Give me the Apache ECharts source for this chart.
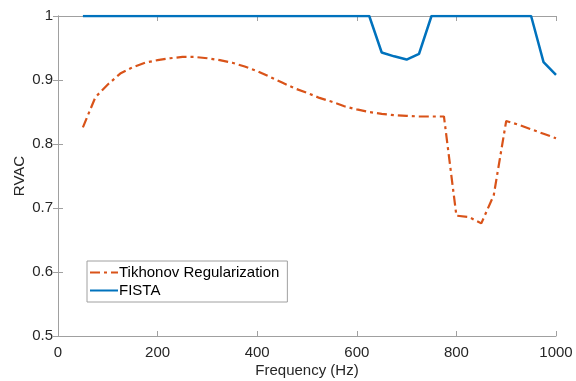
<!DOCTYPE html>
<html><head><meta charset="utf-8">
<script src="https://cdn.jsdelivr.net/npm/echarts@6/dist/echarts.min.js"></script>
<style>html,body{margin:0;padding:0;background:#fff}#c{width:576px;height:381px}</style>
</head><body><div id="c"></div>
<script>
var freqs = [50,75,100,125,150,175,200,225,250,275,300,325,350,375,400,425,450,475,500,525,550,575,600,625,650,675,700,725,750,775,800,825,850,875,900,925,950,975,1000];
var tikhonov = [0.826,0.873,0.893,0.910,0.920,0.927,0.931,0.934,0.936,0.936,0.934,0.931,0.927,0.921,0.914,0.905,0.896,0.887,0.880,0.872,0.866,0.859,0.854,0.850,0.847,0.845,0.844,0.843,0.843,0.843,0.688,0.686,0.676,0.720,0.836,0.830,0.823,0.816,0.809];
var fista = [1,1,1,1,1,1,1,1,1,1,1,1,1,1,1,1,1,1,1,1,1,1,1,1,0.943,0.937,0.932,0.941,1,1,1,1,1,1,1,1,1,0.928,0.908];
var xTicks = [0,200,400,600,800,1000];
var yTicks = [0.5,0.6,0.7,0.8,0.9,1];

function pairs(xs, ys){ return xs.map(function(x,i){return [x, ys[i]];}); }
var font = 'Liberation Sans, Arial, Helvetica, sans-serif';
var axisCol = '#A0A0A0';
var chart = echarts.init(document.getElementById('c'), null, {renderer:'canvas'});
var baseX = {type:'value', min:0, max:1000, interval:200,
  axisLine:{show:true, lineStyle:{color:axisCol, width:1}},
  axisTick:{show:true, inside:true, length:5, lineStyle:{color:axisCol}},
  splitLine:{show:false}};
var baseY = {type:'value', min:0.5, max:1, interval:0.1,
  axisLine:{show:true, lineStyle:{color:axisCol, width:1}},
  axisTick:{show:true, inside:true, length:5, lineStyle:{color:axisCol}},
  splitLine:{show:false}};
chart.setOption({
  animation:false,
  backgroundColor:'#fff',
  grid:{left:58, top:16, right:20, bottom:45, containLabel:false, outerBoundsMode:'none'},
  xAxis:[
    Object.assign({}, baseX, {position:'bottom', name:'Frequency (Hz)', nameLocation:'middle', nameGap:27,
      nameMoveOverlap:false,
      nameTextStyle:{color:'#262626', fontSize:15, fontFamily:font},
      axisLabel:{color:'#262626', fontSize:15, fontFamily:font, margin:9,
        formatter:function(v){return String(v);}}}),
    Object.assign({}, baseX, {position:'top', axisLabel:{show:false}})
  ],
  yAxis:[
    Object.assign({}, baseY, {position:'left', name:'RVAC', nameLocation:'middle', nameGap:31, nameRotate:90,
      nameMoveOverlap:false,
      nameTextStyle:{color:'#262626', fontSize:15, fontFamily:font},
      axisLabel:{color:'#262626', fontSize:15, fontFamily:font, margin:5,
        formatter:function(v){return String(Math.round(v*10)/10);}}}),
    Object.assign({}, baseY, {position:'right', axisLabel:{show:false}})
  ],
  legend:{
    orient:'vertical', left:87, top:261,
    borderColor:'#A0A0A0', borderWidth:1, borderRadius:0,
    padding:[4,8,4,2], itemGap:3, itemWidth:28, itemHeight:10,
    itemStyle:{opacity:0},
    textStyle:{color:'#000', fontSize:15, fontFamily:font, padding:[0,0,0,-4]},
    data:['Tikhonov Regularization','FISTA']
  },
  series:[
    {name:'Tikhonov Regularization', type:'line', data:pairs(freqs,tikhonov), symbol:'none',
      lineStyle:{color:'#D95319', width:2.2, type:[10,4,3,4]}, itemStyle:{color:'#D95319'}},
    {name:'FISTA', type:'line', data:pairs(freqs,fista), symbol:'none',
      lineStyle:{color:'#0072BD', width:2.5}, itemStyle:{color:'#0072BD'}}
  ]
});
</script></body></html>
